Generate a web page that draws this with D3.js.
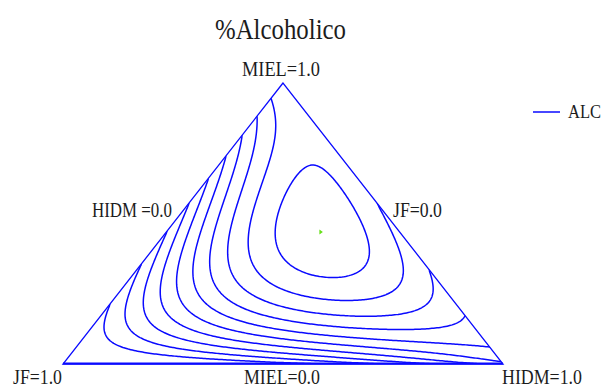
<!DOCTYPE html>
<html><head><meta charset="utf-8">
<script src="https://cdn.jsdelivr.net/npm/d3@7"></script>
<style>body{margin:0;background:#fff}</style>
</head><body>
<svg id="c" width="604" height="388"></svg>
<script>
// Fitted mixture model for %Alcoholico (ALC):
// terms of the three components MIEL, JF, HIDM (proportions summing to 1)
const termNames = ["MIEL", "JF", "HIDM", "MIEL*JF", "MIEL*HIDM", "JF*HIDM", "MIEL*JF*HIDM", "ln(MIEL+0.004)"];
const coefficients = [9.906, 1.061, 6.853, -7.813, 2.583, -4.423, 143.631, 0.431];
// contour levels of the response
const levels = [1, 2, 3, 4, 5, 6, 7, 8, 9, 10];
// vertex and edge labels
const vertexLabels = ["MIEL=1.0", "JF=1.0", "HIDM=1.0"];
const edgeLabels = ["HIDM =0.0", "JF=0.0", "MIEL=0.0"];
const title = "%Alcoholico";
const seriesName = "ALC";

const terms = (M, J, H) => [M, J, H, M * J, M * H, J * H, M * J * H, Math.log(M + 0.004)];
const response = (M, J, H) => d3.sum(terms(M, J, H), (t, i) => t * coefficients[i]);

const svg = d3.select("#c");
const blue = "#0a0aff";

// ternary coordinates: u = HIDM + MIEL/2 across, v = MIEL up
const x = d3.scaleLinear().domain([0, 1]).range([63, 503]);
const y = d3.scaleLinear().domain([0, 1]).range([364, 83]);
const pos = (M, J, H) => [x(H + M / 2), y(M)];

const corners = [pos(1, 0, 0), pos(0, 1, 0), pos(0, 0, 1)];
const triPath = "M" + corners.join("L") + "Z";
svg.append("clipPath").attr("id", "tri").append("path").attr("d", triPath);

// sample the response on a grid covering the triangle
const nx = 261, ny = 171;
const vals = new Array(nx * ny);
for (let j = 0; j < ny; j++) for (let i = 0; i < nx; i++) {
  const u = i / (nx - 1), v = 1 - j / (ny - 1);
  let M = Math.max(0, v), H = Math.max(0, u - v / 2), J = Math.max(0, 1 - v - (u - v / 2));
  const s = M + J + H;
  vals[j * nx + i] = response(M / s, J / s, H / s);
}
const contours = d3.contours().size([nx, ny]).thresholds(levels)(vals);
const proj = d3.geoTransform({
  point(px, py) { this.stream.point(x((px - 0.5) / (nx - 1)), y(1 - (py - 0.5) / (ny - 1))); }
});
svg.append("g").attr("clip-path", "url(#tri)")
  .selectAll("path").data(contours).join("path")
  .attr("d", d3.geoPath(proj))
  .attr("fill", "none").attr("stroke", blue).attr("stroke-width", 1.5)
  .attr("stroke-linejoin", "round");

// triangle outline
svg.append("path").attr("d", triPath).attr("fill", "none")
  .attr("stroke", blue).attr("stroke-width", 1.3);
svg.append("line").attr("x1", corners[1][0]).attr("x2", corners[2][0])
  .attr("y1", corners[1][1] - 0.5).attr("y2", corners[1][1] - 0.5)
  .attr("stroke", blue).attr("stroke-width", 2);

// optimum of the fitted response
let best = {v: -Infinity};
for (let a = 0; a <= 200; a++) for (let b = 0; a + b <= 200; b++) {
  const M = a / 200, H = b / 200, J = 1 - M - H;
  const v = response(M, J, H);
  if (v > best.v) best = {v, M, J, H};
}
const [ox, oy] = pos(best.M, best.J, best.H);
svg.append("path").attr("d", `M${ox - 1},${oy - 2.5}L${ox + 2.5},${oy}L${ox - 1},${oy + 2.5}Z`)
  .attr("fill", "#66e01a");

// texts
const ink = "#1c1c1c";
function label(txt, tx, ty, size, width, anchor) {
  svg.append("text").attr("x", tx).attr("y", ty)
    .attr("font-family", "'Liberation Serif', 'Times New Roman', serif")
    .attr("font-size", size).attr("fill", ink)
    .attr("text-anchor", anchor || "start")
    .attr("textLength", width).attr("lengthAdjust", "spacingAndGlyphs")
    .text(txt);
}
label(title, 215, 39, 30, 131);
label(vertexLabels[0], 242, 76, 22, 78);
label(vertexLabels[1], 13, 384, 21, 49);
label(vertexLabels[2], 502, 384, 21, 80);
label(edgeLabels[0], 92, 217, 22, 80);
label(edgeLabels[1], 393, 217, 22, 49);
label(edgeLabels[2], 244, 384, 21, 76);

// legend
svg.append("line").attr("x1", 533).attr("x2", 560).attr("y1", 112).attr("y2", 112)
  .attr("stroke", blue).attr("stroke-width", 1.5);
label(seriesName, 568, 118, 18, 33);
</script></body></html>
